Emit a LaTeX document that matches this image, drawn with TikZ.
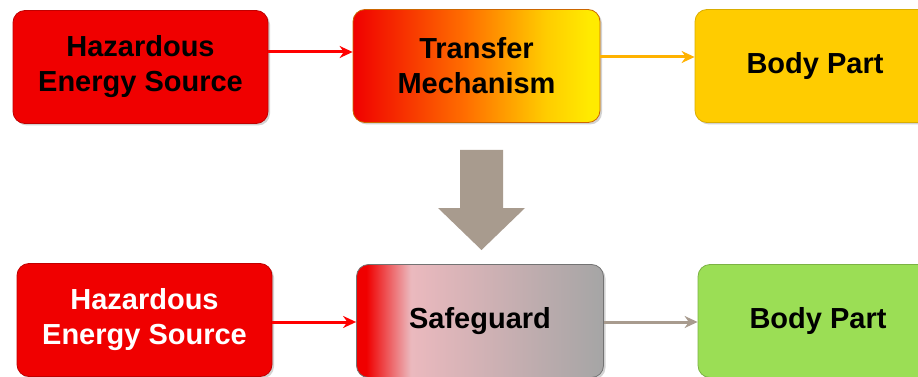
\documentclass[tikz,border=0pt]{standalone}
\usepackage{fontspec}
\setmainfont{Liberation Sans}
\usetikzlibrary{arrows.meta,shadows}

\definecolor{hazred}{RGB}{240,0,0}
\definecolor{gold}{RGB}{255,204,0}
\definecolor{leaf}{RGB}{155,222,85}
\definecolor{taupe}{RGB}{168,155,142}
\definecolor{pinkish}{RGB}{235,185,190}
\definecolor{steel}{RGB}{165,165,165}
\definecolor{flame}{RGB}{255,112,0}
\definecolor{lemon}{RGB}{255,235,0}

\pgfdeclarehorizontalshading{guardshade}{100bp}{color(0bp)=(hazred); color(25bp)=(hazred); color(27bp)=(hazred); color(36bp)=(pinkish); color(75bp)=(steel); color(100bp)=(steel)}
\pgfdeclarehorizontalshading{mechshade}{100bp}{color(0bp)=(hazred); color(25bp)=(hazred); color(48bp)=(flame); color(64bp)=(gold); color(73bp)=(lemon); color(100bp)=(lemon)}

\begin{document}
\begin{tikzpicture}[x=1pt, y=-1pt,
		stage/.style={rectangle, rounded corners=12pt, minimum width=255pt, minimum height=113pt,
			align=center, font=\fontsize{29}{35}\selectfont\bfseries, line width=0.8pt,
			drop shadow={shadow xshift=2pt, shadow yshift=-2pt, opacity=0.35}},
		flow/.style={line width=3pt, -{Stealth[length=13pt, width=12pt]}}]
		\clip (0,0) rectangle (918,377);
		\fill[white] (0,0) rectangle (918,377);

		\coordinate (src1) at (140.5,67);
		\coordinate (mech) at (476.5,66);
		\coordinate (body1) at (815,66);
		\coordinate (src2) at (144.5,320);
		\coordinate (guard) at (480,321);
		\coordinate (body2) at (818,321);

		\node[stage, fill=hazred, draw=hazred!80!black] (s1) at (src1) {Hazardous\\Energy Source};
		\node[stage, minimum width=247pt, shading=mechshade, draw=orange!80!black] (m) at (mech) {Transfer\\Mechanism};
		\node[stage, minimum width=240pt, fill=gold, draw=gold!85!black] (b1) at (body1) {Body Part};

		\node[stage, fill=hazred, draw=hazred!80!black, text=white] (s2) at (src2) {Hazardous\\Energy Source};
		\node[stage, minimum width=247pt, shading=guardshade, draw=steel!70!black] (g) at (guard) {Safeguard};
		\node[stage, minimum width=240pt, fill=leaf, draw=leaf!80!black] (b2) at (body2) {Body Part};

		\draw[flow, red] ([yshift=15pt]s1.east) -- ([yshift=14pt]m.west);
		\draw[flow, orange!60!yellow] ([yshift=9pt]m.east) -- ([yshift=9pt]b1.west);
		\draw[flow, red] ([yshift=-2pt]s2.east) -- ([yshift=-1pt]g.west);
		\draw[flow, taupe] ([yshift=-1pt]g.east) -- ([yshift=-1pt]b2.west);

		\fill[taupe] (460,150) -- (503,150) -- (503,208) -- (525,208) -- (481.5,250) -- (438,208) -- (460,208) -- cycle;
	\end{tikzpicture}
\end{document}
